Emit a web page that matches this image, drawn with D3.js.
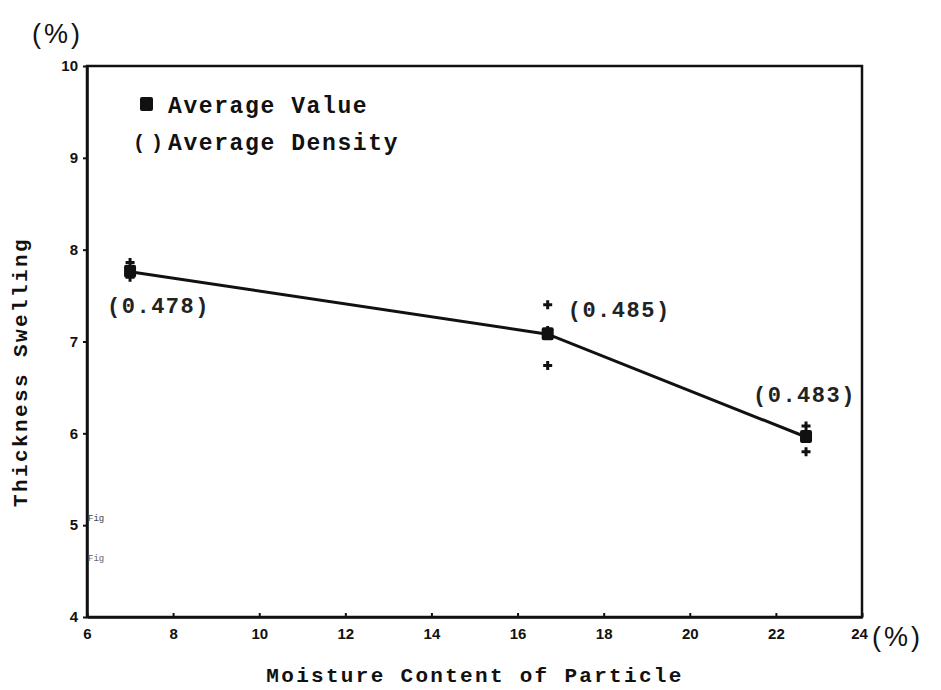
<!DOCTYPE html>
<html>
<head>
<meta charset="utf-8">
<script src="https://cdn.jsdelivr.net/npm/d3@7"></script>
<style>
  body { margin: 0; background: #fff; }
</style>
</head>
<body>
<svg width="941" height="690"></svg>
<script>
// data
const moisture = [7.0, 16.7, 22.7];
const swelling = [7.76, 7.08, 5.96];
const densityLabels = ['(0.478)', '(0.485)', '(0.483)'];
// individual specimens (plus marks)
const sampleX = [7.0, 7.0, 16.7, 16.7, 16.7, 22.7, 22.7];
const sampleY = [7.86, 7.70, 7.40, 7.12, 6.74, 6.08, 5.80];
const xTicks = [6, 8, 10, 12, 14, 16, 18, 20, 22, 24];
const yTicks = [4, 5, 6, 7, 8, 9, 10];

const svg = d3.select('svg');
const plotL = 87, plotR = 862, plotT = 66, plotB = 617;

const x = d3.scaleLinear().domain([6, 24]).range([plotL, plotR]);
const y = d3.scaleLinear().domain([4, 10]).range([plotB, plotT]);

const mono = '"Liberation Mono", "DejaVu Sans Mono", monospace';
const sans = '"Liberation Sans", Arial, sans-serif';

// frame
svg.append('rect')
    .attr('x', plotL).attr('y', plotT)
    .attr('width', plotR - plotL).attr('height', plotB - plotT)
    .attr('fill', 'none').attr('stroke', '#111').attr('stroke-width', 2.5);

// axes
const xAxis = svg.append('g')
    .attr('transform', `translate(0,${plotB})`)
    .call(d3.axisBottom(x).tickValues(xTicks).tickFormat(d3.format('d'))
      .tickSizeInner(-4).tickSizeOuter(0).tickPadding(11));
const yAxis = svg.append('g')
    .attr('transform', `translate(${plotL},0)`)
    .call(d3.axisLeft(y).tickValues(yTicks).tickFormat(d3.format('d'))
      .tickSizeInner(4).tickSizeOuter(0).tickPadding(5));

[xAxis, yAxis].forEach(g => {
  g.select('.domain').attr('stroke', '#111').attr('stroke-width', 2.5);
  g.selectAll('.tick line').attr('stroke', '#111').attr('stroke-width', 2);
  g.selectAll('.tick text')
      .attr('fill', '#111')
      .style('font-family', sans)
      .style('font-weight', 'bold')
      .style('font-size', '15px');
});
xAxis.selectAll('.tick text').attr('dx', d => d === 24 ? -3 : 0);

// unit labels
svg.append('text')
    .attr('x', 32).attr('y', 43)
    .text('(%)')
    .style('font-family', sans).style('font-size', '27px')
    .style('letter-spacing', '3px').attr('fill', '#111');
svg.append('text')
    .attr('x', 872).attr('y', 646)
    .text('(%)')
    .style('font-family', sans).style('font-size', '27px')
    .style('letter-spacing', '3px').attr('fill', '#111');

// axis titles
svg.append('text')
    .attr('x', 475).attr('y', 682)
    .attr('text-anchor', 'middle')
    .text('Moisture Content of Particle')
    .style('font-family', mono).style('font-weight', 'bold')
    .style('font-size', '21px').style('letter-spacing', '2.3px')
    .attr('fill', '#111');
svg.append('text')
    .attr('transform', 'translate(27,372) rotate(-90)')
    .attr('text-anchor', 'middle')
    .text('Thickness Swelling')
    .style('font-family', mono).style('font-weight', 'bold')
    .style('font-size', '21px').style('letter-spacing', '2.4px')
    .attr('fill', '#111');

// legend
svg.append('rect')
    .attr('x', 140).attr('y', 97)
    .attr('width', 13).attr('height', 14)
    .attr('rx', 2)
    .attr('fill', '#111');
const legendRows = [['Average Value', 113], ['Average Density', 150]];
svg.append('g').selectAll('text')
    .data(legendRows)
    .join('text')
    .attr('x', 168).attr('y', d => d[1])
    .text(d => d[0])
    .style('font-family', mono).style('font-weight', 'bold')
    .style('font-size', '23px').style('letter-spacing', '1.6px')
    .attr('fill', '#111');
svg.append('text')
    .attr('x', 133).attr('y', 149)
    .text('( )')
    .style('font-family', mono).style('font-weight', 'bold')
    .style('font-size', '20px').style('letter-spacing', '-3px')
    .attr('fill', '#111');

// mean line
const pts = moisture.map((m, i) => [m, swelling[i]]);
svg.append('path')
    .datum(pts)
    .attr('fill', 'none')
    .attr('stroke', '#111')
    .attr('stroke-width', 3)
    .attr('d', d3.line().x(d => x(d[0])).y(d => y(d[1])));

// specimen plus marks
svg.append('g').selectAll('path')
    .data(sampleX.map((v, i) => [v, sampleY[i]]))
    .join('path')
    .attr('d', d3.symbol().type(d3.symbolCross).size(45))
    .attr('transform', d => `translate(${x(d[0])},${y(d[1])})`)
    .attr('fill', '#111');

// mean squares
svg.append('g').selectAll('rect')
    .data(pts)
    .join('rect')
    .attr('x', d => x(d[0]) - 6)
    .attr('y', d => y(d[1]) - 7)
    .attr('width', 12).attr('height', 13)
    .attr('rx', 2)
    .attr('fill', '#111');

// density labels
const labelOffset = [[-23, 41], [20, -17], [-53, -35]];
svg.append('g').selectAll('text')
    .data(pts)
    .join('text')
    .attr('x', (d, i) => x(d[0]) + labelOffset[i][0])
    .attr('y', (d, i) => y(d[1]) + labelOffset[i][1])
    .text((d, i) => densityLabels[i])
    .style('font-family', mono)
    .style('font-weight', 'bold')
    .style('font-size', '22px').style('letter-spacing', '1.5px')
    .attr('fill', '#222');

// faint scan residue near the axis
svg.append('text')
    .attr('x', 88).attr('y', 521)
    .text('Fig')
    .style('font-family', mono).style('font-size', '9px')
    .attr('fill', '#444');
svg.append('text')
    .attr('x', 88).attr('y', 561)
    .text('Fig')
    .style('font-family', mono).style('font-size', '9px')
    .attr('fill', '#666');
</script>
</body>
</html>
